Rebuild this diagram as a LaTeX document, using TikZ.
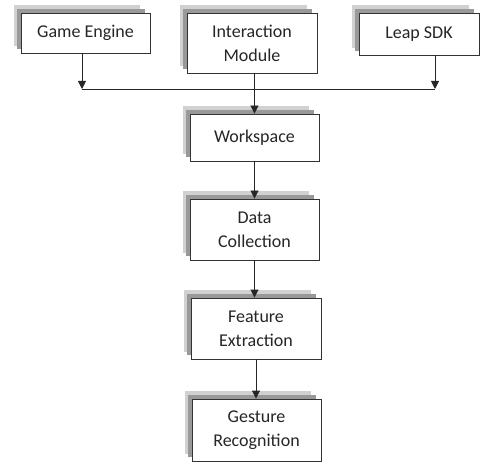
\documentclass[tikz,border=0pt]{standalone}
\usepackage{fontspec}
\setmainfont{Carlito}
\usetikzlibrary{arrows.meta,backgrounds}
\tikzset{
  box/.style={draw=black!80, line width=0.9pt, fill=white, align=center, inner sep=0pt,
    font=\fontsize{18}{24}\selectfont, text=black!85},
  conn/.style={line width=0.9pt, draw=black!85},
  arr/.style={conn, -{Triangle[width=8pt,length=8pt]}},
  shadowlight/.style={fill=black!18},
  shadowdark/.style={fill=black!40},
}
\newcommand{\boxshadow}[1]{%
  \fill[shadowlight] ([shift={(-7,-8)}]#1.north west) rectangle ([shift={(-10,-7)}]#1.south east);
  \fill[shadowdark] ([shift={(-4,-4)}]#1.north west) rectangle ([shift={(-5,-4)}]#1.south east);
}
\begin{document}
\begin{tikzpicture}[x=1pt,y=-1pt]
\useasboundingbox (0,0) rectangle (487,462);
\node[box, minimum width=129pt, minimum height=40pt] (ge) at (85.5,33) {Game Engine};
\node[box, minimum width=130pt, minimum height=60pt] (im) at (252,43) {Interaction\\Module};
\node[box, minimum width=120pt, minimum height=42pt] (leap) at (419,34) {Leap SDK};
\node[box, minimum width=129pt, minimum height=47pt] (ws) at (254.5,137.5) {Workspace};
\node[box, minimum width=129pt, minimum height=61pt] (dc) at (254.5,229.5) {Data\\Collection};
\node[box, minimum width=130pt, minimum height=61pt] (fe) at (256,328.5) {Feature\\Extraction};
\node[box, minimum width=129pt, minimum height=62pt] (gr) at (256.5,430) {Gesture\\Recognition};
\begin{scope}[on background layer]
\boxshadow{ge}
\boxshadow{im}
\boxshadow{leap}
\boxshadow{ws}
\boxshadow{dc}
\boxshadow{fe}
\boxshadow{gr}
\end{scope}
\coordinate (jl) at (82,89);
\coordinate (jr) at (435,89);
\draw[arr] (ge.south -| jl) -- (jl);
\draw[arr] (leap.south -| jr) -- (jr);
\draw[conn] (jl) -- (jr);
\draw[arr] (im.south -| ws.north) -- (ws.north);
\draw[arr] (ws.south) -- (ws.south |- dc.north);
\draw[arr] (dc.south) -- (dc.south |- fe.north);
\draw[arr] (fe.south) -- (fe.south |- gr.north);
\end{tikzpicture}
\end{document}
